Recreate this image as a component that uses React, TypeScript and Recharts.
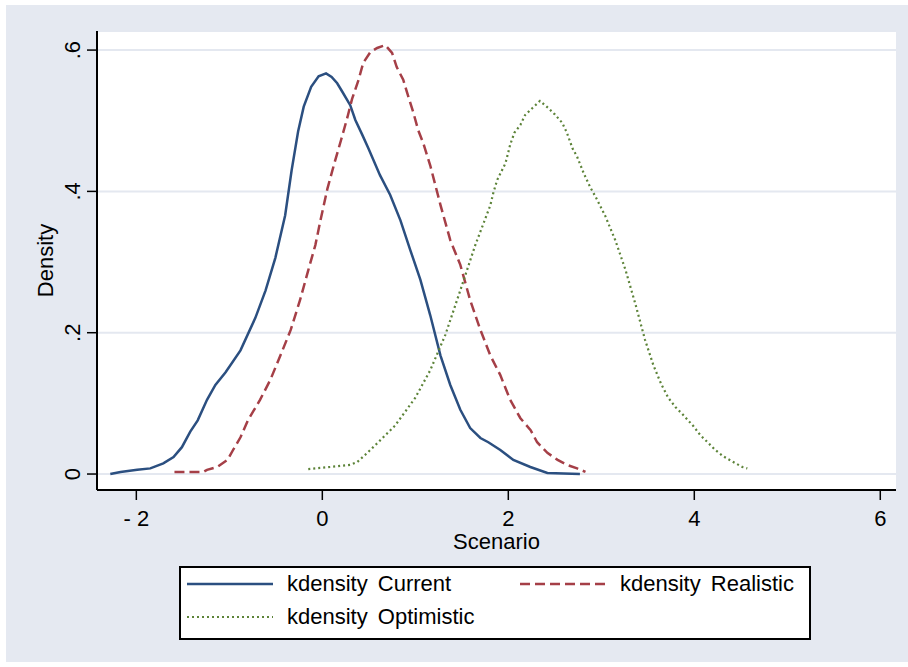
import React from 'react'
import {CartesianGrid, Legend, Line, LineChart, XAxis, YAxis} from 'recharts'

const xTicks = [-2, 0, 2, 4, 6]
const yTicks = [0, 0.2, 0.4, 0.6]

// kdensity estimates
const current = [
    {x: -2.28, y: 0}, {x: -2.17, y: 0.003}, {x: -1.99, y: 0.006}, {x: -1.85, y: 0.008},
    {x: -1.71, y: 0.015}, {x: -1.6, y: 0.024}, {x: -1.51, y: 0.038}, {x: -1.42, y: 0.06},
    {x: -1.34, y: 0.076}, {x: -1.24, y: 0.105}, {x: -1.15, y: 0.126}, {x: -1.04, y: 0.144},
    {x: -0.88, y: 0.175}, {x: -0.72, y: 0.221}, {x: -0.61, y: 0.26}, {x: -0.505, y: 0.306},
    {x: -0.4, y: 0.366}, {x: -0.33, y: 0.43}, {x: -0.26, y: 0.485}, {x: -0.2, y: 0.52},
    {x: -0.12, y: 0.548}, {x: -0.04, y: 0.563}, {x: 0.04, y: 0.567}, {x: 0.1, y: 0.562},
    {x: 0.16, y: 0.553}, {x: 0.215, y: 0.541}, {x: 0.3, y: 0.522}, {x: 0.355, y: 0.501},
    {x: 0.43, y: 0.48}, {x: 0.495, y: 0.461}, {x: 0.62, y: 0.423}, {x: 0.73, y: 0.395},
    {x: 0.84, y: 0.359}, {x: 0.946, y: 0.317}, {x: 1.054, y: 0.275}, {x: 1.16, y: 0.225},
    {x: 1.27, y: 0.168}, {x: 1.376, y: 0.126}, {x: 1.484, y: 0.091}, {x: 1.59, y: 0.065},
    {x: 1.7, y: 0.051}, {x: 1.785, y: 0.045}, {x: 1.914, y: 0.034}, {x: 2.054, y: 0.02},
    {x: 2.237, y: 0.01}, {x: 2.42, y: 0.0014}, {x: 2.77, y: 0},
]

const realistic = [
    {x: -1.59, y: 0.003}, {x: -1.28, y: 0.003}, {x: -1.24, y: 0.006}, {x: -1.13, y: 0.01},
    {x: -1.02, y: 0.02}, {x: -0.96, y: 0.034}, {x: -0.88, y: 0.052}, {x: -0.8, y: 0.076},
    {x: -0.67, y: 0.105}, {x: -0.56, y: 0.133}, {x: -0.45, y: 0.168}, {x: -0.34, y: 0.204},
    {x: -0.24, y: 0.246}, {x: -0.15, y: 0.289}, {x: -0.075, y: 0.324}, {x: -0.02, y: 0.359},
    {x: 0.055, y: 0.404}, {x: 0.13, y: 0.44}, {x: 0.2, y: 0.472},
    {x: 0.27, y: 0.505}, {x: 0.32, y: 0.531}, {x: 0.39, y: 0.558}, {x: 0.44, y: 0.582},
    {x: 0.516, y: 0.597}, {x: 0.59, y: 0.603}, {x: 0.677, y: 0.607}, {x: 0.75, y: 0.596},
    {x: 0.8, y: 0.576}, {x: 0.87, y: 0.558}, {x: 0.925, y: 0.534}, {x: 0.98, y: 0.511},
    {x: 1.03, y: 0.487}, {x: 1.086, y: 0.468}, {x: 1.16, y: 0.437}, {x: 1.27, y: 0.381},
    {x: 1.376, y: 0.331}, {x: 1.484, y: 0.296}, {x: 1.59, y: 0.246}, {x: 1.7, y: 0.204},
    {x: 1.806, y: 0.168}, {x: 1.914, y: 0.14}, {x: 2.02, y: 0.105}, {x: 2.13, y: 0.079},
    {x: 2.24, y: 0.062}, {x: 2.31, y: 0.045}, {x: 2.42, y: 0.03}, {x: 2.53, y: 0.02},
    {x: 2.63, y: 0.013}, {x: 2.74, y: 0.008}, {x: 2.83, y: 0.003},
]

const optimistic = [
    {x: -0.151, y: 0.007}, {x: 0.086, y: 0.01}, {x: 0.301, y: 0.013}, {x: 0.376, y: 0.017},
    {x: 0.484, y: 0.03}, {x: 0.602, y: 0.045}, {x: 0.785, y: 0.069}, {x: 1.0, y: 0.108},
    {x: 1.161, y: 0.147}, {x: 1.323, y: 0.197}, {x: 1.484, y: 0.26}, {x: 1.645, y: 0.324},
    {x: 1.806, y: 0.38}, {x: 1.839, y: 0.398}, {x: 1.88, y: 0.416}, {x: 1.97, y: 0.44},
    {x: 2.02, y: 0.466}, {x: 2.065, y: 0.483}, {x: 2.13, y: 0.494}, {x: 2.18, y: 0.508},
    {x: 2.26, y: 0.518}, {x: 2.34, y: 0.528}, {x: 2.43, y: 0.518}, {x: 2.5, y: 0.509},
    {x: 2.58, y: 0.497}, {x: 2.63, y: 0.483}, {x: 2.69, y: 0.461}, {x: 2.74, y: 0.449},
    {x: 2.81, y: 0.426}, {x: 2.88, y: 0.406}, {x: 2.94, y: 0.392}, {x: 3.04, y: 0.366},
    {x: 3.15, y: 0.331}, {x: 3.26, y: 0.289}, {x: 3.37, y: 0.239}, {x: 3.47, y: 0.19},
    {x: 3.56, y: 0.154}, {x: 3.645, y: 0.127}, {x: 3.72, y: 0.108}, {x: 3.796, y: 0.095},
    {x: 3.871, y: 0.085}, {x: 3.989, y: 0.068}, {x: 4.065, y: 0.055}, {x: 4.151, y: 0.044},
    {x: 4.226, y: 0.034}, {x: 4.312, y: 0.025}, {x: 4.419, y: 0.017}, {x: 4.516, y: 0.01},
    {x: 4.57, y: 0.008},
]

const series = [
    {name: 'kdensity Current', data: current, color: '#2b4f80', dash: undefined, width: 2.5},
    {name: 'kdensity Realistic', data: realistic, color: '#a53f47', dash: '10 5', width: 2.5},
    {name: 'kdensity Optimistic', data: optimistic, color: '#5c8338', dash: '2 3', width: 2.2},
]

const font = '"Liberation Sans", Arial, sans-serif'

const XTick = (props: any) => {
    const {x, y, payload} = props
    return (
        <text x={x} y={y + 26} textAnchor="middle" fontSize={22} fontFamily={font} fill="#000">
            {payload.value < 0 ? '- ' + Math.abs(payload.value) : payload.value}
        </text>
    )
}

const YTick = (props: any) => {
    const {x, y, payload} = props
    const label = payload.value === 0 ? '0' : String(payload.value).replace('0.', '.')
    return (
        <text x={x - 7} y={y} transform={`rotate(-90 ${x - 7} ${y})`} textAnchor="middle"
              fontSize={22} fontFamily={font} fill="#000">
            {label}
        </text>
    )
}

const XTitle = (props: any) => {
    const {viewBox} = props
    return (
        <text x={viewBox.x + viewBox.width / 2} y={viewBox.y + 59} textAnchor="middle"
              fontSize={22} fontFamily={font} fill="#000">Scenario</text>
    )
}

const YTitle = (props: any) => {
    const {viewBox} = props
    const x = viewBox.x + 16
    const y = viewBox.y + viewBox.height / 2
    return (
        <text x={x} y={y} transform={`rotate(-90 ${x} ${y})`} textAnchor="middle"
              fontSize={22} fontFamily={font} fill="#000">Density</text>
    )
}

// legend keeps the series order: two columns, Current | Realistic, then Optimistic
const LegendBox = () => {
    return (
        <div style={{
            boxSizing: 'border-box', width: 632, height: 74, background: '#fff',
            border: '2px solid #000', position: 'relative', fontFamily: font, fontSize: 22,
        }}>
            {series.map((s, i) => {
                const left = (i % 2) * 333 + 6
                const top = Math.floor(i / 2) * 33 + 16
                return (
                    <div key={s.name} style={{position: 'absolute', left, top: top - 14, height: 28, display: 'flex', alignItems: 'center'}}>
                        <svg width={86} height={6}>
                            <line x1={0} y1={3} x2={86} y2={3} stroke={s.color} strokeWidth={s.width} strokeDasharray={s.dash} />
                        </svg>
                        <span style={{marginLeft: 14, wordSpacing: 4, whiteSpace: 'nowrap'}}>{s.name}</span>
                    </div>
                )
            })}
        </div>
    )
}

const App = () => {
    return (
        <div style={{position: 'absolute', left: 0, top: 0, width: 908, height: 667, background: '#fff'}}>
            <div style={{position: 'absolute', left: 6, top: 5}}>
                <LineChart width={902} height={657} style={{background: '#e5e9f1'}}
                           margin={{top: 26, right: 12, left: 31, bottom: 112}}>
                    <CartesianGrid vertical={false} fill="#fff" stroke="#e4e8f0" strokeWidth={2} />
                    <XAxis dataKey="x" type="number" domain={[-2.423, 6.169]} ticks={xTicks}
                           allowDataOverflow height={60} tickSize={10} tickMargin={0}
                           axisLine={{stroke: '#000', strokeWidth: 2}}
                           tickLine={{stroke: '#000', strokeWidth: 1.5}}
                           tick={<XTick />} label={<XTitle />} />
                    <YAxis type="number" domain={[-0.0226, 0.627]} ticks={yTicks}
                           allowDataOverflow width={60} tickSize={10} tickMargin={0}
                           axisLine={{stroke: '#000', strokeWidth: 2}}
                           tickLine={{stroke: '#000', strokeWidth: 1.5}}
                           tick={<YTick />} label={<YTitle />} />
                    {series.map(s => (
                        <Line key={s.name} data={s.data} dataKey="y" name={s.name} type="linear"
                              stroke={s.color} strokeWidth={s.width} strokeDasharray={s.dash}
                              dot={false} activeDot={false} isAnimationActive={false} />
                    ))}
                    <Legend layout="vertical" align="center" verticalAlign="middle"
                            wrapperStyle={{position: 'absolute', left: 173, top: 561, width: 632, height: 74}}
                            content={() => <LegendBox />} />
                </LineChart>
            </div>
        </div>
    )
}

export default App
